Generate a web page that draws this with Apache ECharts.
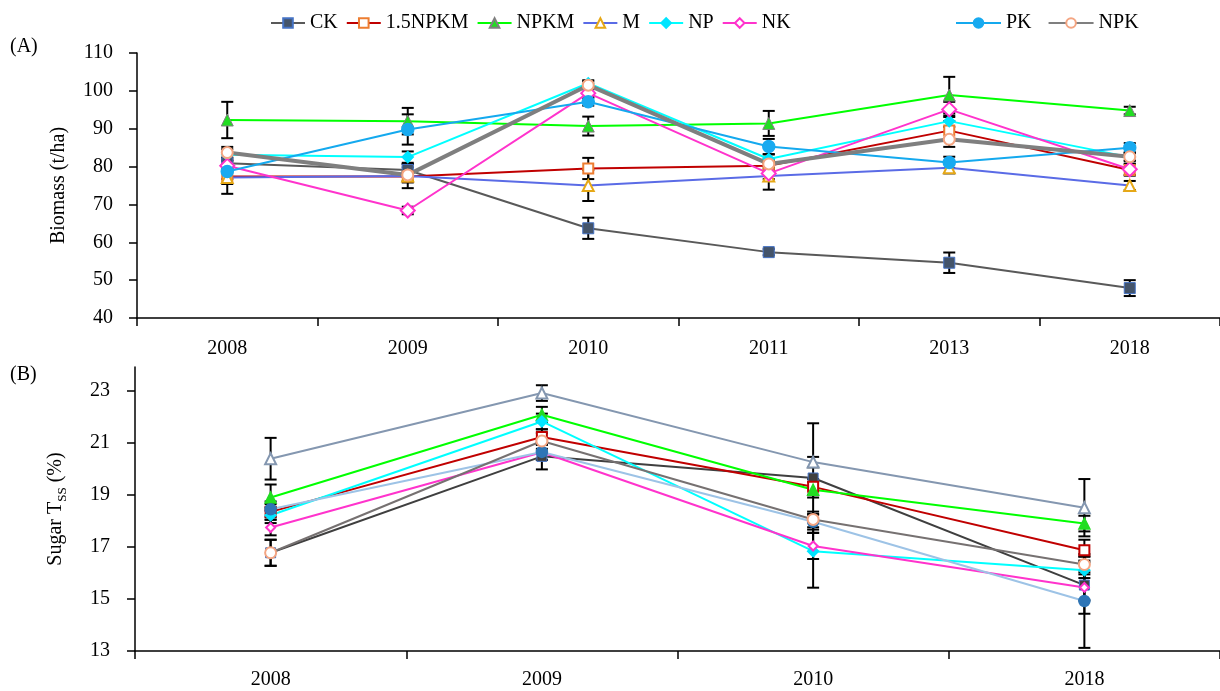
<!DOCTYPE html>
<html>
<head>
<meta charset="utf-8">
<script src="https://cdn.jsdelivr.net/npm/echarts@6/dist/echarts.min.js"></script>
<style>
  html, body { margin: 0; padding: 0; background: #fff; }
  #chart { width: 1220px; height: 691px; }
</style>
</head>
<body>
<div id="chart"></div>
<script>
  // categories
  const yearsA = ['2008', '2009', '2010', '2011', '2013', '2018'];
  const yearsB = ['2008', '2009', '2010', '2018'];
  const names = ['CK', '1.5NPKM', 'NPKM', 'M', 'NP', 'NK', 'PK', 'NPK'];

  // (A) biomass, t/ha
  const bioCK = [80.9, 79.1, 63.7, 57.4, 54.6, 47.9];
  const bio15NPKM = [77.4, 77.4, 79.5, 80.2, 89.5, 79.1];
  const bioNPKM = [92.3, 92.0, 90.7, 91.4, 98.9, 94.8];
  const bioM = [77.1, 77.5, 75.0, 77.5, 79.7, 75.0];
  const bioNP = [83.1, 82.5, 102.0, 82.0, 92.0, 82.5];
  const bioNK = [80.2, 68.4, 99.4, 78.2, 95.1, 79.3];
  const bioPK = [78.7, 89.8, 97.1, 85.3, 81.1, 85.0];
  const bioNPK = [83.7, 77.8, 101.5, 80.7, 87.2, 82.6];

  // (A) error (half length)
  const errCK = [1.5, 1.5, 2.8, 0.8, 2.7, 2.1];
  const err15NPKM = [2.0, 1.2, 2.8, 1.5, 2.5, 1.5];
  const errNPKM = [4.8, 3.5, 2.5, 3.3, 4.8, 1.0];
  const errM = [4.3, 3.2, 4.1, 3.6, 1.5, 1.2];
  const errNP = [1.5, 1.5, 0.8, 1.2, 1.5, 1.0];
  const errNK = [1.5, 1.0, 1.0, 1.5, 2.0, 1.5];
  const errPK = [2.0, 4.0, 1.0, 2.0, 1.5, 1.2];
  const errNPK = [1.5, 2.0, 1.0, 1.5, 2.0, 1.0];

  // (B) sugar Tss, %
  const sugCK = [16.77, 20.47, 19.64, 15.53];
  const sug15NPKM = [18.34, 21.21, 19.3, 16.87];
  const sugNPKM = [18.89, 22.07, 19.19, 17.89];
  const sugM = [20.38, 22.9, 20.25, 18.5];
  const sugNP = [18.21, 21.81, 16.83, 16.1];
  const sugNK = [17.74, 20.63, 17.03, 15.44];
  const sugPK = [18.44, 20.64, 17.96, 14.92];
  const sugNPK = [16.77, 21.06, 18.05, 16.32];

  // (B) error (half length)
  const errCKB = [0.5, 0.5, 2.1, 1.1];
  const err15NPKMB = [0.3, 0.3, 0.3, 0.4];
  const errNPKMB = [0.5, 0.3, 0.3, 0.3];
  const errMB = [0.8, 0.3, 0.2, 1.1];
  const errNPB = [0.3, 0.3, 1.4, 0.3];
  const errNKB = [0.3, 0.3, 0.5, 0.5];
  const errPKB = [0.3, 0.3, 0.3, 1.8];
  const errNPKB = [0.5, 0.3, 0.3, 0.3];

  const ticksA = [40, 50, 60, 70, 80, 90, 100, 110];
  const ticksB = [13, 15, 17, 19, 21, 23];

  const font = 'Liberation Serif';

  const styleA = [
    { line: '#595959', w: 2, symbol: 'rect', size: 11, color: '#44546a', border: '#4472c4' },
    { line: '#c00000', w: 2, symbol: 'emptyRect', size: 10, color: '#ed7d31' },
    { line: '#00ff00', w: 2, symbol: 'triangle', size: 12, color: '#22dd22', border: '#808080' },
    { line: '#5a6be6', w: 2, symbol: 'emptyTriangle', size: 11, color: '#e6a817' },
    { line: '#00ffff', w: 2, symbol: 'diamond', size: 11, color: '#00e5ff' },
    { line: '#ff33cc', w: 2, symbol: 'emptyDiamond', size: 14, color: '#ff33cc' },
    { line: '#14a9ee', w: 2, symbol: 'circle', size: 12, color: '#18aaf0' },
    { line: '#7f7f7f', w: 4, symbol: 'emptyCircle', size: 11, color: '#f4a582' },
  ];
  const styleB = [
    { line: '#3f3f3f', w: 2, symbol: 'rect', size: 10, color: '#404040', border: '#4472c4' },
    { line: '#c00000', w: 2, symbol: 'emptyRect', size: 10, color: '#c00000' },
    { line: '#00ff00', w: 2, symbol: 'triangle', size: 11, color: '#22dd22' },
    { line: '#8497b0', w: 2, symbol: 'emptyTriangle', size: 11, color: '#8497b0' },
    { line: '#00ffff', w: 2, symbol: 'diamond', size: 11, color: '#00e5ff' },
    { line: '#ff33cc', w: 2, symbol: 'emptyDiamond', size: 9, color: '#ff33cc' },
    { line: '#9dc3e6', w: 2, symbol: 'circle', size: 11, color: '#2e75b6' },
    { line: '#767171', w: 2, symbol: 'emptyCircle', size: 11, color: '#f4a582' },
  ];

  const bioData = [bioCK, bio15NPKM, bioNPKM, bioM, bioNP, bioNK, bioPK, bioNPK];
  const bioErr = [errCK, err15NPKM, errNPKM, errM, errNP, errNK, errPK, errNPK];
  const sugData = [sugCK, sug15NPKM, sugNPKM, sugM, sugNP, sugNK, sugPK, sugNPK];
  const sugErr = [errCKB, err15NPKMB, errNPKMB, errMB, errNPB, errNKB, errPKB, errNPKB];

  const lineSeries = (name, data, st, idx) => ({
    name: name,
    type: 'line',
    xAxisIndex: idx,
    yAxisIndex: idx,
    data: data,
    symbol: st.symbol,
    symbolSize: st.size,
    z: 3,
    lineStyle: { color: st.line, width: st.w },
    itemStyle: { color: st.color, borderColor: st.border || st.color, borderWidth: st.border ? 1 : 1.5 },
  });

  const errorSeries = (vals, errs, idx) => ({
    type: 'custom',
    xAxisIndex: idx,
    yAxisIndex: idx,
    z: 2,
    silent: true,
    data: vals.map((v, i) => [i, v - errs[i], v + errs[i]]),
    renderItem(params, api) {
      const x = api.value(0);
      const lo = api.coord([x, api.value(1)]);
      const hi = api.coord([x, api.value(2)]);
      const hw = 6;
      const st = { stroke: '#000', lineWidth: 2 };
      return {
        type: 'group',
        children: [
          { type: 'line', shape: { x1: lo[0], y1: lo[1], x2: hi[0], y2: hi[1] }, style: st },
          { type: 'line', shape: { x1: lo[0] - hw, y1: lo[1], x2: lo[0] + hw, y2: lo[1] }, style: st },
          { type: 'line', shape: { x1: hi[0] - hw, y1: hi[1], x2: hi[0] + hw, y2: hi[1] }, style: st },
        ],
      };
    },
  });

  const series = [];
  names.forEach((n, k) => {
    series.push(errorSeries(bioData[k], bioErr[k], 0));
    series.push(errorSeries(sugData[k], sugErr[k], 1));
  });
  names.forEach((n, k) => series.push(lineSeries(n, bioData[k], styleA[k], 0)));
  names.forEach((n, k) => series.push(lineSeries(n, sugData[k], styleB[k], 1)));

  const axisLine = { show: true, lineStyle: { color: '#000', width: 1.5 } };
  const axisTick = { show: true, length: 8, lineStyle: { color: '#000', width: 1.5 } };
  const labelStyle = { fontFamily: font, fontSize: 20, color: '#000' };
  const legendText = { fontFamily: font, fontSize: 20, color: '#000' };

  const chart = echarts.init(document.getElementById('chart'));
  chart.setOption({
    animation: false,
    backgroundColor: '#fff',
    legend: [
      {
        data: names.slice(0, 6),
        left: 265,
        top: 8,
        itemWidth: 34,
        itemHeight: 12,
        itemGap: 8,
        textStyle: legendText,
      },
      {
        data: names.slice(6),
        left: 950,
        top: 8,
        itemWidth: 45,
        itemHeight: 12,
        itemGap: 16,
        textStyle: legendText,
      },
    ],
    graphic: [
      { type: 'text', left: 10, top: 37, style: { text: '(A)', font: '20px "Liberation Serif"', fill: '#000' } },
      { type: 'text', left: 10, top: 365, style: { text: '(B)', font: '20px "Liberation Serif"', fill: '#000' } },
    ],
    grid: [
      { left: 137, right: 0, top: 53, height: 265 },
      { left: 135, right: 0, top: 367, height: 284 },
    ],
    xAxis: [
      {
        type: 'category',
        gridIndex: 0,
        data: yearsA,
        axisLine: axisLine,
        axisTick: axisTick,
        axisLabel: Object.assign({ margin: 21 }, labelStyle),
        splitLine: { show: false },
      },
      {
        type: 'category',
        gridIndex: 1,
        data: yearsB,
        axisLine: axisLine,
        axisTick: axisTick,
        axisLabel: Object.assign({ margin: 19 }, labelStyle),
        splitLine: { show: false },
      },
    ],
    yAxis: [
      {
        type: 'value',
        gridIndex: 0,
        min: 40,
        max: 110,
        interval: 10,
        name: 'Biomass (t/ha)',
        nameLocation: 'middle',
        nameGap: 68,
        nameTextStyle: { fontFamily: font, fontSize: 20, color: '#000' },
        axisLine: axisLine,
        axisTick: Object.assign({ customValues: ticksA }, axisTick),
        axisLabel: Object.assign({ margin: 24, customValues: ticksA }, labelStyle),
        splitLine: { show: false },
      },
      {
        type: 'value',
        gridIndex: 1,
        min: 13,
        max: 23.9,
        name: '{a|Sugar T}{s|SS}{a| (%)}',
        nameLocation: 'middle',
        nameGap: 66,
        nameTextStyle: {
          rich: {
            a: { fontFamily: font, fontSize: 20, color: '#000', lineHeight: 26, verticalAlign: 'middle' },
            s: { fontFamily: font, fontSize: 13, color: '#000', lineHeight: 26, verticalAlign: 'bottom', padding: [8, 0, 0, 0] },
          },
        },
        axisLine: axisLine,
        axisTick: Object.assign({ customValues: ticksB }, axisTick),
        axisLabel: Object.assign({ margin: 25, customValues: ticksB }, labelStyle),
        splitLine: { show: false },
      },
    ],
    series: series,
  });
</script>
</body>
</html>
